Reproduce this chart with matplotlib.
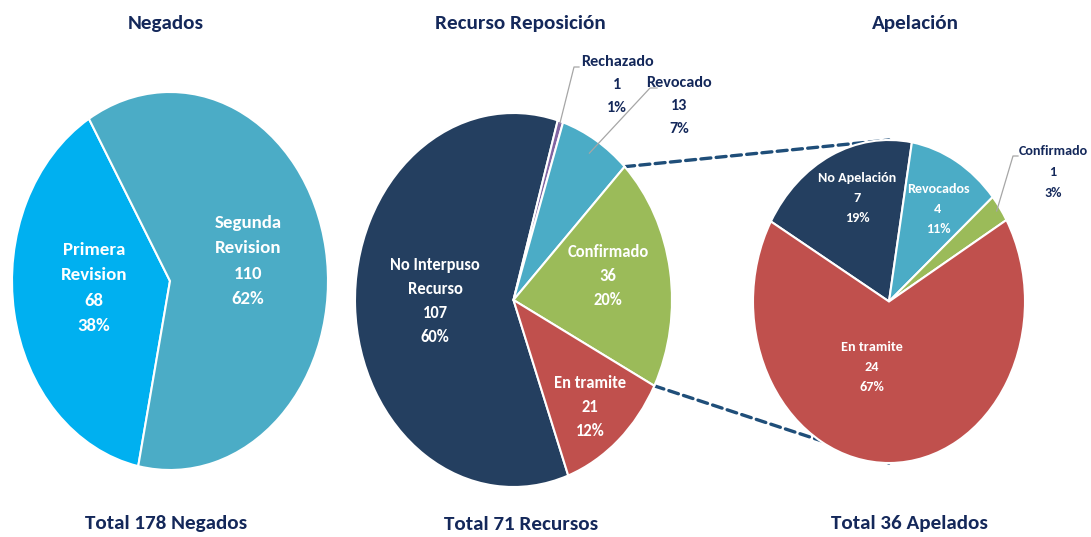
import numpy as np
import matplotlib
matplotlib.use("Agg")
import matplotlib.pyplot as plt
from matplotlib.lines import Line2D
from matplotlib.patches import ConnectionPatch
from matplotlib import font_manager

# ---------------- data ----------------
neg_labels = ["Primera\nRevision", "Segunda\nRevision"]
neg_values = [68, 110]
neg_pcts = ["38%", "62%"]

rec_labels = ["No Interpuso\nRecurso", "Rechazado", "Revocado", "Confirmado", "En tramite"]
rec_values = [107, 1, 13, 36, 21]
rec_pcts = ["60%", "1%", "7%", "20%", "12%"]

ape_labels = ["No Apelación", "Revocados", "Confirmado", "En tramite"]
ape_values = [7, 4, 1, 24]
ape_pcts = ["19%", "11%", "3%", "67%"]

titles = ["Negados", "Recurso Reposición", "Apelación"]
totals = ["Total 178 Negados", "Total 71 Recursos", "Total 36 Apelados"]

# ---------------- style ----------------
names = {f.name for f in font_manager.fontManager.ttflist}
FONT = "Liberation Sans"
for cand in ["Carlito", "Liberation Sans Narrow", "Archivo Narrow", "Asap Condensed"]:
    if cand in names:
        FONT = cand
        break
plt.rcParams["font.family"] = [FONT, "DejaVu Sans"]
plt.rcParams["font.weight"] = "bold"

NAVY = "#14285a"
c_prim = "#00b0f0"
c_teal = "#4bacc6"
c_dark = "#243f60"
c_purp = "#8064a2"
c_green = "#9bbb59"
c_red = "#c0504d"

W, H = 1091, 537
fig = plt.figure(figsize=(W / 100, H / 100), dpi=100)
fig.patch.set_facecolor("white")


def px_axes(x0, y0, x1, y1):
    return fig.add_axes([x0 / W, 1 - y1 / H, (x1 - x0) / W, (y1 - y0) / H])


def fpx(x, y):
    """image pixel (top-left origin) -> figure fraction"""
    return x / W, 1 - y / H


def make_pie(ax, values, colors, startangle):
    wedges, _ = ax.pie(values, colors=colors, startangle=startangle, counterclock=False,
                       radius=1.0, wedgeprops=dict(edgecolor="white", linewidth=1.5))
    ax.set_aspect("auto")
    ax.set_xlim(-1.0, 1.0)
    ax.set_ylim(-1.0, 1.0)
    ax.axis("off")
    return wedges


# pies
ax1 = px_axes(12, 92, 328, 470)
ax2 = px_axes(355, 113, 672, 487)
ax3 = px_axes(753, 140, 1025, 463)
for a in (ax1, ax2, ax3):
    a.set_zorder(2)
    a.patch.set_alpha(0)

w1 = make_pie(ax1, neg_values, [c_prim, c_teal], -101.6)
w2 = make_pie(ax2, rec_values, [c_dark, c_purp, c_teal, c_green, c_red], 290.2)
w3 = make_pie(ax3, ape_values, [c_dark, c_teal, c_green, c_red], 150.3)

# connectors from Confirmado wedge edges to the Apelación pie
conf = w2[3]
for ang, target in ((conf.theta1, (0.0, -1.0)), (conf.theta2, (0.0, 1.0))):
    a = np.deg2rad(ang)
    cp = ConnectionPatch(xyA=(np.cos(a), np.sin(a)), coordsA=ax2.transData,
                         xyB=target, coordsB=ax3.transData,
                         color="#1f4e79", linestyle=(0, (3, 1.6)), linewidth=2.4)
    cp.set_zorder(1)
    fig.add_artist(cp)


def ftext(x, y, s, size, color, ls=1.4):
    fx, fy = fpx(x, y)
    fig.text(fx, fy, s, ha="center", va="center", fontsize=size, color=color,
             fontweight="bold", linespacing=ls, zorder=5)


# titles and totals
for (x, y), s in zip([(166, 24), (520, 24), (915, 24)], titles):
    ftext(x, y, s, 15.2, NAVY)
for (x, y), s in zip([(166, 524), (521, 524), (909, 523)], totals):
    ftext(x, y, s, 15.2, NAVY)

# inside labels
ftext(94, 288, f"{neg_labels[0]}\n{neg_values[0]}\n{neg_pcts[0]}", 13.6, "white", 1.74)
ftext(248, 261, f"{neg_labels[1]}\n{neg_values[1]}\n{neg_pcts[1]}", 13.6, "white", 1.74)

ftext(435, 301, f"{rec_labels[0]}\n{rec_values[0]}\n{rec_pcts[0]}", 11.9, "white", 1.62)
ftext(608, 276, f"{rec_labels[3]}\n{rec_values[3]}\n{rec_pcts[3]}", 11.9, "white", 1.62)
ftext(590, 407, f"{rec_labels[4]}\n{rec_values[4]}\n{rec_pcts[4]}", 11.9, "white", 1.62)

ftext(857, 198, f"{ape_labels[0]}\n{ape_values[0]}\n{ape_pcts[0]}", 10.2, "white", 1.84)
ftext(938, 209, f"{ape_labels[1]}\n{ape_values[1]}\n{ape_pcts[1]}", 10.2, "white", 1.84)
ftext(872, 367, f"{ape_labels[3]}\n{ape_values[3]}\n{ape_pcts[3]}", 10.2, "white", 1.84)

# outside labels
ftext(617, 85, f"{rec_labels[1]}\n{rec_values[1]}\n{rec_pcts[1]}", 11.6, NAVY, 1.84)
ftext(679, 106, f"{rec_labels[2]}\n{rec_values[2]}\n{rec_pcts[2]}", 11.6, NAVY, 1.84)
ftext(1053, 172, f"{ape_labels[2]}\n{ape_values[2]}\n{ape_pcts[2]}", 10.2, NAVY, 1.9)


def leader(ax, wedge, r, elbow, end):
    m = np.deg2rad((wedge.theta1 + wedge.theta2) / 2)
    disp = ax.transData.transform((r * np.cos(m), r * np.sin(m)))
    sx, sy = fig.transFigure.inverted().transform(disp)
    ex, ey = fpx(*elbow)
    tx, ty = fpx(*end)
    fig.add_artist(Line2D([sx, ex, tx], [sy, ey, ty], transform=fig.transFigure,
                          color="#a6a6a6", linewidth=0.9, zorder=4))


leader(ax2, w2[1], 0.99, (574, 67), (579, 67))
leader(ax2, w2[2], 0.92, (650, 88), (657, 88))
leader(ax3, w3[2], 0.97, (1013, 156), (1018, 156))

fig.savefig("out.png", dpi=100, facecolor="white")
